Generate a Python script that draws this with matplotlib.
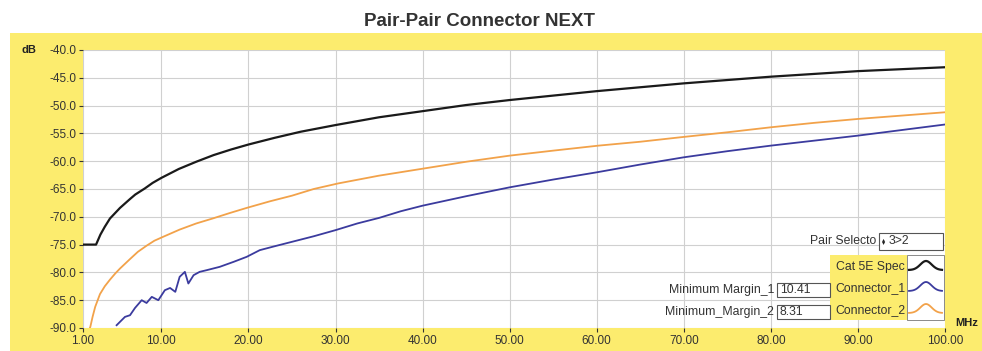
import numpy as np
import matplotlib
matplotlib.use('Agg')
import matplotlib.pyplot as plt
from matplotlib.patches import Rectangle
from matplotlib.lines import Line2D

# %% data

freq_spec = [1, 2.5, 3, 3.5, 4.1, 5.25, 6.4, 7, 8.1, 9, 10, 12, 14, 16, 18, 20, 23, 26, 30, 35,
             40, 45, 50, 60, 70, 80, 90, 100]
cat5e_spec = [-75.0, -75.0, -73.2, -71.8, -70.3, -68.4, -66.8, -66.0, -64.9, -63.9, -63.0, -61.4,
              -60.1, -58.9, -57.9, -57.0, -55.8, -54.7, -53.5, -52.1, -51.0, -49.9, -49.0, -47.4,
              -46.0, -44.8, -43.8, -43.1]

freq_c1 = [4.86, 5.82, 6.4, 6.97, 7.74, 8.3, 8.9, 9.65, 10.4, 11.0, 11.6, 12.1, 12.7, 13.1, 13.7,
           14.4, 15.2, 16.7, 18.3, 19.8, 21.3, 23, 25, 27.5, 30, 32.5, 35, 37.5, 40, 45, 50, 55,
           60, 65, 70, 75, 80, 85, 90, 95, 100]
connector_1 = [-89.5, -88.0, -87.7, -86.4, -85.0, -85.5, -84.4, -85.0, -83.2, -82.8, -83.5, -80.8,
               -79.9, -82.0, -80.5, -79.9, -79.6, -79.0, -78.1, -77.2, -76.0, -75.3, -74.5, -73.5,
               -72.4, -71.2, -70.2, -69.0, -68.0, -66.3, -64.7, -63.3, -62.0, -60.6, -59.3, -58.2,
               -57.2, -56.3, -55.4, -54.4, -53.4]

freq_c2 = [1.0, 1.84, 2.1, 2.4, 2.95, 3.5, 4.1, 4.7, 5.25, 6.4, 7.3, 8.3, 9.2, 10.2, 12.1, 14,
           15.9, 17.9, 19.8, 22.5, 25, 27.5, 30.3, 35, 40.2, 45, 50, 55, 60.2, 65, 69.6, 75, 80,
           85, 90, 95, 100]
connector_2 = [-93.0, -89.8, -88.0, -86.2, -83.9, -82.5, -81.3, -80.2, -79.3, -77.6, -76.3, -75.2,
               -74.3, -73.6, -72.3, -71.2, -70.3, -69.3, -68.4, -67.2, -66.2, -65.0, -64.0, -62.6,
               -61.3, -60.1, -59.0, -58.1, -57.2, -56.5, -55.7, -54.8, -53.9, -53.1, -52.4, -51.8,
               -51.2]

x_ticks = [1, 10, 20, 30, 40, 50, 60, 70, 80, 90, 100]
x_labels = ['1.00', '10.00', '20.00', '30.00', '40.00', '50.00', '60.00', '70.00', '80.00', '90.00', '100.00']
y_ticks = [-40, -45, -50, -55, -60, -65, -70, -75, -80, -85, -90]
y_labels = ['%.1f' % v for v in y_ticks]

legend_names = ['Cat 5E Spec', 'Connector_1', 'Connector_2']
margin_names = ['Minimum Margin_1', 'Minimum_Margin_2']
margin_values = ['10.41', '8.31']

# %% figure

W, H = 982, 351
yellow = '#FCEC6E'
c_black, c_blue, c_orange = '#1a1a1a', '#3b3b9e', '#F2A24A'
txt = '#333333'
plt.rcParams['font.family'] = ['Liberation Sans', 'DejaVu Sans']

def fx(x):
    return x / W

def fy(y):
    return 1 - y / H

fig = plt.figure(figsize=(W / 100, H / 100), dpi=100)
fig.patch.set_facecolor('white')
fig.add_artist(Rectangle((fx(10), 0), fx(W - 10), fy(33), transform=fig.transFigure,
                         facecolor=yellow, edgecolor='none', zorder=0))

ax = fig.add_axes([fx(83), fy(328), fx(945 - 83), (328 - 50) / H])
ax.set_facecolor('white')
ax.plot(freq_spec, cat5e_spec, color=c_black, lw=1.6, zorder=3)
ax.plot(freq_c2, connector_2, color=c_orange, lw=1.3, zorder=3)
ax.plot(freq_c1, connector_1, color=c_blue, lw=1.3, zorder=3)

ax.set_xlim(1, 100)
ax.set_ylim(-90, -40)
ax.set_xticks(x_ticks)
ax.set_xticklabels(x_labels)
ax.set_yticks(y_ticks)
ax.set_yticklabels(y_labels)
ax.tick_params(axis='both', labelsize=8.5, colors=txt, length=3, width=0.8, pad=2)
ax.grid(True, color='#d0d0d0', lw=0.8)
ax.set_axisbelow(True)
for s in ax.spines.values():
    s.set_visible(False)

fig.text(fx(479), fy(22), 'Pair-Pair Connector NEXT', ha='center', va='center',
         fontsize=13.5, fontweight='bold', color=txt)
fig.text(fx(29), fy(50), 'dB', ha='center', va='center', fontsize=8, fontweight='bold', color='#222222')
fig.text(fx(967), fy(323), 'MHz', ha='center', va='center', fontsize=8, fontweight='bold', color='#222222')

# pair selector
fig.text(fx(876), fy(241), 'Pair Selecto', ha='right', va='center', fontsize=8.8, color=txt)
fig.add_artist(Rectangle((fx(879), fy(250)), fx(64), 17 / H, transform=fig.transFigure,
                         facecolor='white', edgecolor='#555555', lw=0.8, zorder=4))
fig.text(fx(882), fy(241), '\u25B4\n\u25BE', ha='left', va='center', fontsize=4.5, linespacing=0.7,
         color='#222222', zorder=5)
fig.text(fx(889), fy(241), '3>2', ha='left', va='center', fontsize=8.8, color=txt, zorder=5)

# legend box
fig.add_artist(Rectangle((fx(830), fy(320)), fx(77), 65 / H, transform=fig.transFigure,
                         facecolor=yellow, edgecolor='none', zorder=4))
fig.add_artist(Rectangle((fx(907), fy(320)), fx(37), 65 / H, transform=fig.transFigure,
                         facecolor='white', edgecolor='#777777', lw=0.6, zorder=4))
row_y = [267, 288, 310]
icon_x = np.linspace(909, 942, 40)
bump = np.exp(-((icon_x - 926) / 8) ** 2)
for name, col, yy in zip(legend_names, [c_black, c_blue, c_orange], row_y):
    fig.text(fx(905), fy(yy), name, ha='right', va='center', fontsize=8.8, color=txt, zorder=5)
    ys = yy + 3 - 9 * bump
    fig.add_artist(Line2D(fx(icon_x), fy(ys), transform=fig.transFigure, color=col,
                          lw=1.6 if col == c_black else 1.3, zorder=6))

# minimum margin boxes
for name, val, yy in zip(margin_names, margin_values, [290, 312]):
    fig.text(fx(774), fy(yy), name, ha='right', va='center', fontsize=8.8, color=txt, zorder=5)
    fig.add_artist(Rectangle((fx(777), fy(yy + 7)), fx(53), 14 / H, transform=fig.transFigure,
                             facecolor='white', edgecolor='#555555', lw=0.8, zorder=4))
    fig.text(fx(780), fy(yy), val, ha='left', va='center', fontsize=8.8, color=txt, zorder=5)

fig.savefig('out.png', dpi=100)
